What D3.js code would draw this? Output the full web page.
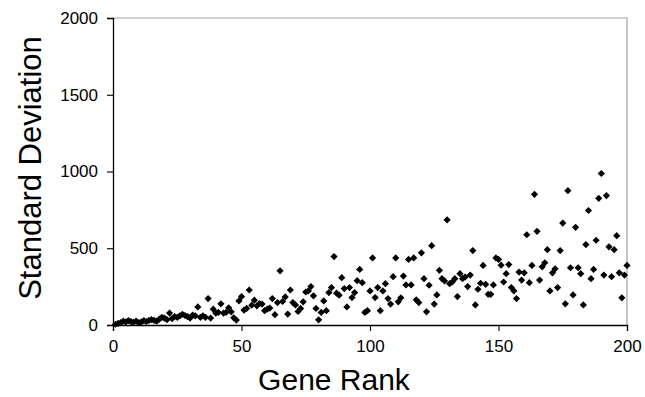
<!DOCTYPE html>
<html>
<head>
<meta charset="utf-8">
<script src="https://cdn.jsdelivr.net/npm/d3@7"></script>
<style>
  html, body { margin: 0; padding: 0; background: #fff; }
  text { font-family: "Liberation Sans", Arial, sans-serif; fill: #000; }
</style>
</head>
<body>
<svg id="chart" width="645" height="397"></svg>
<script>
// Gene rank 1..200 and standard deviation values
const geneRank = d3.range(1, 201);
const stdDev = [
  5, 10, 15, 25, 20, 28, 22, 18, 25, 15,
  20, 28, 22, 30, 35, 30, 25, 38, 50, 45,
  35, 78, 42, 55, 50, 60, 70, 62, 55, 45,
  65, 60, 118, 50, 60, 50, 172, 45, 103, 78,
  82, 138, 78, 82, 112, 86, 47, 32, 157, 185,
  97, 108, 228, 129, 162, 125, 140, 136, 93, 103,
  110, 172, 67, 146, 353, 153, 183, 71, 228, 146,
  131, 88, 108, 151, 215, 222, 250, 190, 108, 34,
  82, 157, 93, 211, 244, 446, 207, 194, 308, 237,
  118, 244, 179, 211, 289, 362, 276, 82, 93, 222,
  437, 179, 244, 93, 222, 269, 172, 136, 315, 437,
  151, 177, 319, 261, 427, 261, 437, 164, 146, 470,
  302, 86, 259, 517, 136, 196, 356, 302, 287, 685,
  269, 280, 302, 185, 334, 302, 312, 250, 325, 485,
  131, 233, 272, 388, 265, 200, 200, 261, 437, 427,
  390, 280, 334, 394, 244, 222, 172, 345, 293, 340,
  588, 276, 388, 851, 610, 293, 379, 405, 491, 222,
  340, 366, 244, 485, 664, 138, 875, 373, 196, 636,
  373, 334, 131, 524, 746, 302, 362, 552, 825, 987,
  325, 843, 509, 315, 491, 582, 340, 177, 325, 388
];
const xTicks = [0, 50, 100, 150, 200];
const yTicks = [0, 500, 1000, 1500, 2000];
const xTitle = "Gene Rank";
const yTitle = "Standard Deviation";

const svg = d3.select("#chart");
const plot = { left: 113, right: 627, top: 18, bottom: 325 };

const x = d3.scaleLinear().domain([0, 200]).range([plot.left, plot.right]);
const y = d3.scaleLinear().domain([0, 2000]).range([plot.bottom, plot.top]);

// plot-area border (top & right in grey)
svg.append("path")
  .attr("d", `M${plot.left},${plot.top}H${plot.right}V${plot.bottom}`)
  .attr("fill", "none")
  .attr("stroke", "#a0a0a0")
  .attr("stroke-width", 1.2);

// Y axis
const yAxis = svg.append("g")
  .attr("transform", `translate(${plot.left},0)`)
  .call(d3.axisLeft(y).tickValues(yTicks).tickSize(6).tickPadding(9).tickFormat(d3.format("d")));
yAxis.select(".domain").attr("stroke", "#000").attr("stroke-width", 1.3);
yAxis.selectAll(".tick line").attr("stroke", "#000").attr("stroke-width", 1.1);
yAxis.selectAll("text").style("font-size", "17px").attr("font-family", "Liberation Sans, Arial, sans-serif");

// X axis
const xAxis = svg.append("g")
  .attr("transform", `translate(0,${plot.bottom})`)
  .call(d3.axisBottom(x).tickValues(xTicks).tickSize(6).tickPadding(9).tickFormat(d3.format("d")));
xAxis.select(".domain").attr("stroke", "#000").attr("stroke-width", 1.3);
xAxis.selectAll(".tick line").attr("stroke", "#000").attr("stroke-width", 1.1);
xAxis.selectAll("text").style("font-size", "17px").attr("font-family", "Liberation Sans, Arial, sans-serif");

// Points (diamonds)
const diamond = d3.symbol().type(d3.symbolSquare).size(26);
svg.append("g")
  .selectAll("path")
  .data(geneRank.map((r, i) => ({ r, v: stdDev[i] })))
  .join("path")
  .attr("d", diamond)
  .attr("transform", d => `translate(${x(d.r)},${y(d.v)}) rotate(45)`)
  .attr("fill", "#000");

// Titles
svg.append("text")
  .attr("x", 334).attr("y", 390)
  .attr("text-anchor", "middle")
  .style("font-size", "30px")
  .text(xTitle);

svg.append("text")
  .attr("transform", `translate(41,168) rotate(-90)`)
  .attr("text-anchor", "middle")
  .style("font-size", "31px")
  .text(yTitle);
</script>
</body>
</html>
